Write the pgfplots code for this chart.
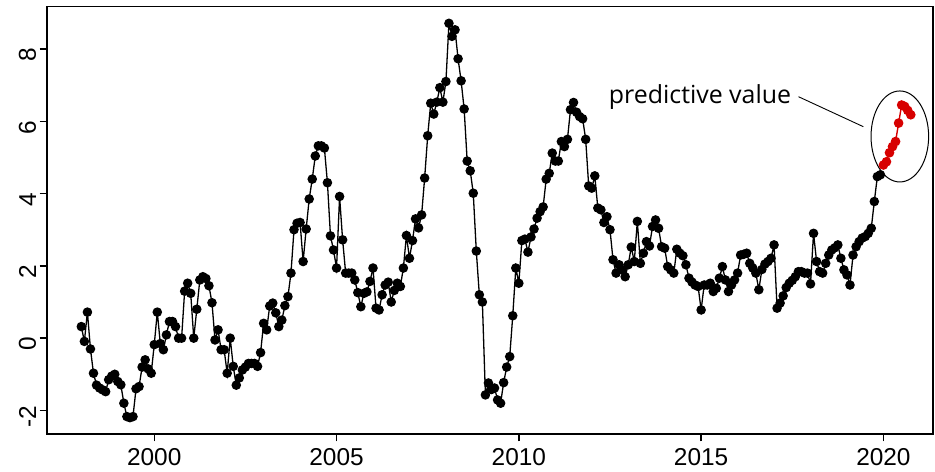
\documentclass[border=0pt]{standalone}
\usepackage{pgfplots}
\pgfplotsset{compat=1.18}
\usepackage{pgfplotstable}
\usepackage{fontspec}
\setmainfont{Liberation Sans}
\newfontfamily\annot{Open Sans}
\definecolor{predred}{RGB}{215,0,0}

\pgfplotstableread[row sep=\\]{
m v\\
0 0.32\\ 1 -0.09\\ 2 0.72\\ 3 -0.3\\ 4 -0.97\\ 5 -1.3\\ 6 -1.38\\ 7 -1.43\\ 8 -1.48\\ 9 -1.15\\ 10 -1.05\\ 11 -1.0\\
12 -1.2\\ 13 -1.29\\ 14 -1.8\\ 15 -2.17\\ 16 -2.2\\ 17 -2.17\\ 18 -1.4\\ 19 -1.34\\ 20 -0.8\\ 21 -0.6\\ 22 -0.85\\ 23 -0.97\\
24 -0.18\\ 25 0.72\\ 26 -0.15\\ 27 -0.32\\ 28 0.09\\ 29 0.46\\ 30 0.46\\ 31 0.32\\ 32 0.0\\ 33 0.0\\ 34 1.3\\ 35 1.52\\
36 1.24\\ 37 0.0\\ 38 0.8\\ 39 1.61\\ 40 1.7\\ 41 1.65\\ 42 1.45\\ 43 0.98\\ 44 -0.05\\ 45 0.23\\ 46 -0.32\\ 47 -0.32\\
48 -0.97\\ 49 0.0\\ 50 -0.78\\ 51 -1.3\\ 52 -1.1\\ 53 -0.88\\ 54 -0.8\\ 55 -0.7\\ 56 -0.7\\ 57 -0.7\\ 58 -0.78\\ 59 -0.4\\
60 0.41\\ 61 0.23\\ 62 0.89\\ 63 0.97\\ 64 0.7\\ 65 0.32\\ 66 0.5\\ 67 0.9\\ 68 1.15\\ 69 1.8\\ 70 3.0\\ 71 3.18\\
72 3.2\\ 73 2.12\\ 74 3.02\\ 75 3.85\\ 76 4.4\\ 77 5.04\\ 78 5.32\\ 79 5.32\\ 80 5.26\\ 81 4.3\\ 82 2.83\\ 83 2.44\\
84 1.94\\ 85 3.92\\ 86 2.72\\ 87 1.8\\ 88 1.8\\ 89 1.8\\ 90 1.61\\ 91 1.26\\ 92 0.87\\ 93 1.24\\ 94 1.28\\ 95 1.57\\
96 1.94\\ 97 0.83\\ 98 0.78\\ 99 1.2\\ 100 1.47\\ 101 1.55\\ 102 1.0\\ 103 1.32\\ 104 1.52\\ 105 1.43\\ 106 1.94\\ 107 2.84\\
108 2.21\\ 109 2.7\\ 110 3.3\\ 111 3.05\\ 112 3.41\\ 113 4.43\\ 114 5.6\\ 115 6.5\\ 116 6.2\\ 117 6.53\\ 118 6.93\\ 119 6.53\\
120 7.1\\ 121 8.71\\ 122 8.35\\ 123 8.53\\ 124 7.73\\ 125 7.12\\ 126 6.34\\ 127 4.9\\ 128 4.63\\ 129 4.01\\ 130 2.41\\ 131 1.2\\
132 1.0\\ 133 -1.57\\ 134 -1.24\\ 135 -1.42\\ 136 -1.38\\ 137 -1.71\\ 138 -1.8\\ 139 -1.23\\ 140 -0.8\\ 141 -0.51\\ 142 0.62\\ 143 1.94\\
144 1.52\\ 145 2.7\\ 146 2.74\\ 147 2.38\\ 148 2.8\\ 149 3.02\\ 150 3.32\\ 151 3.5\\ 152 3.63\\ 153 4.4\\ 154 4.56\\ 155 5.12\\
156 4.9\\ 157 4.9\\ 158 5.44\\ 159 5.3\\ 160 5.5\\ 161 6.32\\ 162 6.52\\ 163 6.25\\ 164 6.13\\ 165 6.07\\ 166 5.5\\ 167 4.21\\
168 4.15\\ 169 4.49\\ 170 3.6\\ 171 3.55\\ 172 3.2\\ 173 3.36\\ 174 3.0\\ 175 2.17\\ 176 1.8\\ 177 2.03\\ 178 1.89\\ 179 1.7\\
180 2.03\\ 181 2.52\\ 182 2.12\\ 183 3.23\\ 184 2.07\\ 185 2.35\\ 186 2.67\\ 187 2.55\\ 188 3.09\\ 189 3.27\\ 190 3.04\\ 191 2.53\\
192 2.49\\ 193 1.98\\ 194 1.89\\ 195 1.8\\ 196 2.46\\ 197 2.35\\ 198 2.28\\ 199 2.03\\ 200 1.66\\ 201 1.55\\ 202 1.47\\ 203 1.43\\
204 0.78\\ 205 1.47\\ 206 1.47\\ 207 1.52\\ 208 1.29\\ 209 1.38\\ 210 1.66\\ 211 1.98\\ 212 1.61\\ 213 1.29\\ 214 1.47\\ 215 1.61\\
216 1.8\\ 217 2.3\\ 218 2.32\\ 219 2.35\\ 220 2.07\\ 221 1.94\\ 222 1.8\\ 223 1.34\\ 224 1.9\\ 225 2.05\\ 226 2.12\\ 227 2.21\\
228 2.58\\ 229 0.83\\ 230 0.97\\ 231 1.17\\ 232 1.4\\ 233 1.52\\ 234 1.6\\ 235 1.7\\ 236 1.84\\ 237 1.84\\ 238 1.8\\ 239 1.8\\
240 1.5\\ 241 2.9\\ 242 2.12\\ 243 1.84\\ 244 1.8\\ 245 2.07\\ 246 2.3\\ 247 2.44\\ 248 2.5\\ 249 2.58\\ 250 2.21\\ 251 1.89\\
252 1.75\\ 253 1.47\\ 254 2.3\\ 255 2.53\\ 256 2.67\\ 257 2.77\\ 258 2.81\\ 259 2.9\\ 260 3.04\\ 261 3.78\\ 262 4.47\\ 263 4.52\\
}\obs

\pgfplotstableread[row sep=\\]{
m v\\
264 4.79\\ 265 4.88\\ 266 5.13\\ 267 5.3\\ 268 5.44\\ 269 5.95\\ 270 6.45\\ 271 6.41\\ 272 6.3\\ 273 6.18\\
}\pred

\begin{document}
\begin{tikzpicture}
\useasboundingbox (-46.7bp,-37.7bp) rectangle (888.3bp,434.3bp);
\begin{axis}[
  at={(0,0)}, anchor=south west,
  scale only axis, width=886.3bp, height=427.6bp,
  xmin=1997.05, xmax=2021.36, ymin=-2.66, ymax=9.17,
  xtick={2000,2005,2010,2015,2020}, xticklabels={2000,2005,2010,2015,2020},
  ytick={-2,0,2,4,6,8}, yticklabels={-2,0,2,4,6,8},
  tick align=outside, xtick pos=left, ytick pos=left,
  major tick length=7bp,
  axis line style={line width=1.6bp},
  every tick/.style={black, line width=1.4bp},
  tick label style={font=\fontsize{24.5}{26}\selectfont},
  xticklabel style={yshift=-4bp},
  yticklabel style={rotate=90, anchor=south, xshift=-6bp},
  clip=false,
]
\addplot[black, line width=1.3bp, mark=*, mark size=4.1bp, mark options={solid, fill=black}]
  table[x expr=1998+\thisrow{m}/12, y=v]{\obs};
\addplot[predred, line width=1.4bp, mark=*, mark size=4.1bp, mark options={solid, fill=predred, draw=predred}]
  table[x expr=1998+\thisrow{m}/12, y=v]{\pred};
\node[font=\annot\fontsize{25}{26}\selectfont, anchor=base] at (axis cs:2014.97,6.5) {predictive value};
\draw[black, line width=0.9bp] (axis cs:2017.67,6.68) -- (axis cs:2019.45,5.85);
\draw[black, line width=1bp] (axis cs:2020.45,5.58) ellipse [x radius=28.8bp, y radius=45.5bp];
\end{axis}
\end{tikzpicture}
\end{document}
